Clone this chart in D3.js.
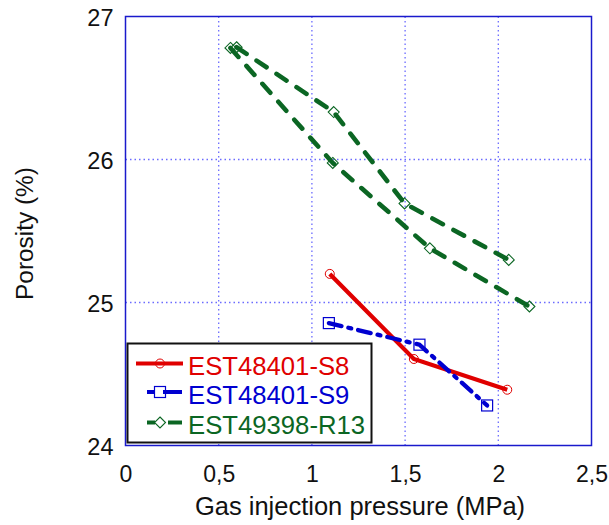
<!DOCTYPE html>
<html><head><meta charset="utf-8">
<script src="https://cdn.jsdelivr.net/npm/d3@7"></script>
<style>body{margin:0;background:#fff;} svg{display:block;font-family:"Liberation Sans",Arial,sans-serif;}</style>
</head><body>
<svg id="c" width="609" height="525"></svg>
<script>
const xTicks = [0, 0.5, 1, 1.5, 2, 2.5];
const xTickLabels = ["0", "0,5", "1", "1,5", "2", "2,5"];
const yTicks = [24, 25, 26, 27];
const s8x = [1.096, 1.547, 2.048];
const s8y = [25.20, 24.605, 24.39];
const s9x = [1.091, 1.577, 1.94];
const s9y = [24.856, 24.705, 24.28];
const r13ax = [0.596, 1.117, 1.497, 2.056];
const r13ay = [26.785, 26.332, 25.693, 25.298];
const r13bx = [0.563, 1.112, 1.633, 2.167];
const r13by = [26.78, 25.976, 25.379, 24.972];
const legendLabels = ["EST48401-S8", "EST48401-S9", "EST49398-R13"];

const svg = d3.select("#c");
const L = 125.5, R = 591.5, T = 16.5, B = 445.5;
const x = d3.scaleLinear().domain([0, 2.5]).range([L, R]);
const y = d3.scaleLinear().domain([24, 27]).range([B, T]);
const gridCol = "#6b6bff", axCol = "#1a1acc";
const red = "#e00000", blue = "#0000d0", green = "#0b6623";
const FONT = "Liberation Sans, Arial, sans-serif";

// grid
svg.append("g").selectAll("line.gx").data(xTicks.slice(1, -1)).join("line")
  .attr("x1", d => x(d)).attr("x2", d => x(d)).attr("y1", T).attr("y2", B)
  .attr("stroke", gridCol).attr("stroke-width", 1.3).attr("stroke-dasharray", "1.5,3");
svg.append("g").selectAll("line.gy").data(yTicks.slice(1, -1)).join("line")
  .attr("y1", d => y(d)).attr("y2", d => y(d)).attr("x1", L).attr("x2", R)
  .attr("stroke", gridCol).attr("stroke-width", 1.3).attr("stroke-dasharray", "1.5,3");

// frame
svg.append("rect").attr("x", L).attr("y", T).attr("width", R - L).attr("height", B - T)
  .attr("fill", "none").attr("stroke", axCol).attr("stroke-width", 1.5);

// axes labels
const xa = svg.append("g").attr("transform", `translate(0,${B})`)
  .call(d3.axisBottom(x).tickValues(xTicks).tickFormat((d, i) => xTickLabels[i]).tickSize(0).tickPadding(20));
xa.select(".domain").remove();
xa.selectAll("text").attr("font-size", 23).attr("fill", "#111").attr("font-family", FONT);
const ya = svg.append("g").attr("transform", `translate(${L - 12},0)`)
  .call(d3.axisLeft(y).tickValues(yTicks).tickFormat(d3.format("d")).tickSize(0).tickPadding(0));
ya.select(".domain").remove();
ya.selectAll("text").attr("font-size", 23.5).attr("fill", "#111").attr("font-family", FONT).attr("dy", "0.4em");

svg.append("text").attr("x", 360).attr("y", 515).attr("text-anchor", "middle")
  .attr("font-size", 25.5).attr("fill", "#111").text("Gas injection pressure (MPa)");
svg.append("text").attr("transform", `translate(32.5,233.5) rotate(-90)`).attr("text-anchor", "middle")
  .attr("font-size", 24.4).attr("fill", "#111").text("Porosity (%)");

const line = d3.line().x(d => x(d[0])).y(d => y(d[1]));
const zip = (a, b) => a.map((v, i) => [v, b[i]]);

const series = [
  {pts: [zip(s8x, s8y)], color: red, dash: null, marker: "circle", w: 4.2},
  {pts: [zip(s9x, s9y)], color: blue, dash: "13,7,3,7", marker: "square", w: 4.3},
  {pts: [zip(r13ax, r13ay), zip(r13bx, r13by)], color: green, dash: "12,12", marker: "diamond", w: 4.6}
];

function marker(g, type, cx, cy, color) {
  if (type === "circle") g.append("circle").attr("cx", cx).attr("cy", cy).attr("r", 4.5)
    .attr("fill", "none").attr("stroke", color).attr("stroke-width", 1);
  else if (type === "square") g.append("rect").attr("x", cx - 5.5).attr("y", cy - 5.5).attr("width", 11).attr("height", 11)
    .attr("fill", "none").attr("stroke", color).attr("stroke-width", 1.2);
  else g.append("path").attr("d", `M${cx},${cy - 5.5}L${cx + 5.5},${cy}L${cx},${cy + 5.5}L${cx - 5.5},${cy}Z`)
    .attr("fill", "none").attr("stroke", color).attr("stroke-width", 1.1);
}

series.forEach(s => {
  const g = svg.append("g");
  s.pts.forEach(p => {
    g.append("path").attr("d", line(p)).attr("fill", "none").attr("stroke", s.color)
      .attr("stroke-width", s.w).attr("stroke-linecap", s.dash ? "round" : "butt")
      .attr("stroke-dasharray", s.dash);
    p.forEach(d => marker(g, s.marker, x(d[0]), y(d[1]), s.color));
  });
});

// legend
const lg = svg.append("g");
lg.append("rect").attr("x", 127.5).attr("y", 343.5).attr("width", 244).attr("height", 99)
  .attr("fill", "#fff").attr("stroke", "#111").attr("stroke-width", 2);
const rowY = [363.5, 392, 422.5];
series.forEach((s, i) => {
  const cy = rowY[i];
  if (s.dash) {
    lg.append("line").attr("x1", 147).attr("x2", 155).attr("y1", cy).attr("y2", cy).attr("stroke", s.color).attr("stroke-width", 4);
    lg.append("line").attr("x1", i === 1 ? 163 : 168).attr("x2", 182).attr("y1", cy).attr("y2", cy).attr("stroke", s.color).attr("stroke-width", 4);
  } else {
    lg.append("line").attr("x1", 136).attr("x2", 183).attr("y1", cy).attr("y2", cy).attr("stroke", s.color).attr("stroke-width", 4);
  }
  marker(lg, s.marker, 160, cy, s.color);
  lg.append("text").attr("x", 188).attr("y", cy + 11.5).attr("font-size", 25.7).attr("fill", s.color).text(legendLabels[i]);
});
</script>
</body></html>
